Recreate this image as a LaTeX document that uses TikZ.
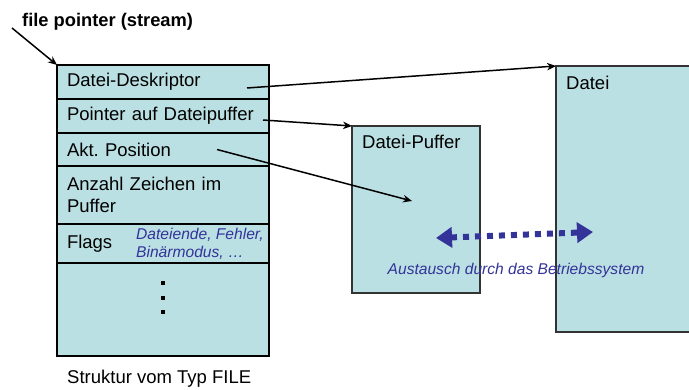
\documentclass[tikz,border=0pt]{standalone}
\usepackage{xcolor}
\usepackage{tikz}
\usepackage{fontspec}
\setmainfont{Liberation Sans}
\usetikzlibrary{arrows.meta, positioning, calc}
\definecolor{feldfarbe}{RGB}{187,224,227}
\definecolor{osblau}{RGB}{51,51,153}
\tikzstyle{feld} = [rectangle, draw=black, line width=1.3pt, fill=feldfarbe, text width=192pt, inner xsep=10pt, inner ysep=0pt, outer sep=0pt, align=left, font=\fontsize{18.5}{21.7}\selectfont]
\tikzstyle{speicher} = [rectangle, draw=black!80, line width=1.3pt, fill=feldfarbe, outer sep=0pt]
\tikzstyle{titel} = [anchor=north west, inner sep=0pt, font=\fontsize{18.5}{21.7}\selectfont]
\tikzstyle{arrow} = [line width=1.5pt, -{Stealth[length=9pt,width=7.5pt]}]
\tikzstyle{austausch} = [osblau, line width=6pt, dash pattern=on 6pt off 6pt, {Triangle[length=16pt,width=20pt]}-{Triangle[length=16pt,width=20pt]}]
\tikzstyle{hinweis} = [osblau, font=\fontsize{15.6}{18.3}\selectfont\itshape, align=left, inner sep=0pt]

\begin{document}
\begin{tikzpicture}[x=1pt, y=1pt]
    \useasboundingbox (0,0) rectangle (689,389);

    % Struktur FILE
    \node[feld, minimum height=34pt, anchor=north west] (desc) at (57,324) {Datei-Deskriptor};
    \node[feld, minimum height=34pt, below=0pt of desc] (ptr) {Pointer auf Dateipuffer};
    \node[feld, minimum height=33pt, below=0pt of ptr] (pos) {Akt.\ Position};
    \node[feld, minimum height=58pt, below=0pt of pos] (anzahl) {Anzahl Zeichen im\\Puffer};
    \node[feld, minimum height=39pt, below=0pt of anzahl] (flags) {Flags};
    \node[feld, minimum height=93pt, below=0pt of flags] (rest) {};
    \node[hinweis, anchor=west] (flaginfo) at ($(flags.west)+(79,0)$) {Dateiende, Fehler,\\Binärmodus, …};
    \foreach \dy in {20,35,49}
        \fill ($(rest.north)+(-1.8,-\dy-1.8)$) rectangle ++(3.6,3.6);
    \node[anchor=west, inner sep=0pt, font=\fontsize{18.5}{21.7}\selectfont] (typ) at ($(rest.south west)+(10,-23)$) {Struktur vom Typ FILE};

    % file pointer
    \node[anchor=west, inner sep=0pt, font=\fontsize{18.3}{21.7}\selectfont\bfseries] (fp) at (22,367) {file pointer (stream)};
    \coordinate (fpstart) at (12,361);
    \draw[arrow] (fpstart) -- (desc.north west);

    % Puffer und Datei
    \node[speicher, minimum width=128pt, minimum height=167pt, anchor=north west] (puffer) at (352,263) {};
    \node[titel] (puffertitel) at ($(puffer.north west)+(10,-9)$) {Datei-Puffer};
    \node[speicher, minimum width=140pt, minimum height=266pt, anchor=north west] (datei) at (556,323) {};
    \node[titel] (dateititel) at ($(datei.north west)+(10,-10)$) {Datei};

    % Zeiger
    \coordinate (descout) at ($(desc.east)+(-22,-6)$);
    \draw[arrow] (descout) -- (datei.north west);
    \coordinate (ptrout) at ($(ptr.east)+(-6,-4)$);
    \draw[arrow] (ptrout) -- (puffer.north west);
    \coordinate (posout) at ($(pos.east)+(-52,0)$);
    \coordinate (pufferziel) at ($(puffer.center)+(-4,8.5)$);
    \draw[arrow] (posout) -- (pufferziel);

    % Austausch
    \coordinate (austauschlinks) at ($(puffer.center)+(20,-28.5)$);
    \coordinate (austauschrechts) at ($(datei.center)+(-33,-33)$);
    \draw[austausch] (austauschlinks) -- (austauschrechts);
    \node[hinweis] (austauschtext) at (516,119) {Austausch durch das Betriebssystem};

\end{tikzpicture}
\end{document}
